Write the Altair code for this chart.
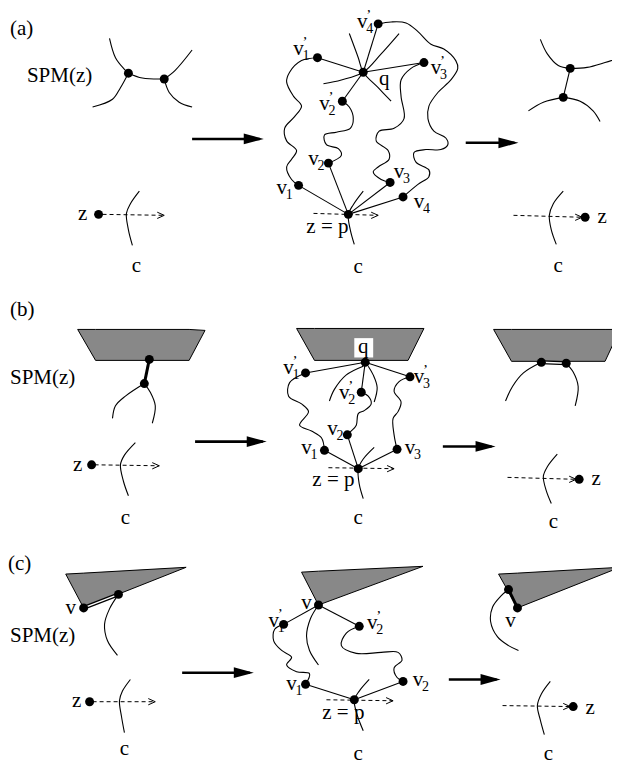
import altair as alt
import pandas as pd

# ---------------- geometry (picture coordinates) ----------------
# smooth curves (pass through listed points)
curves = {
    # panel (a)
    "a_spm_1": [(107, 27), (113, 47), (122, 59), (126, 63)],
    "a_spm_2": [(126, 63), (118, 78), (110, 90), (90, 98)],
    "a_spm_3": [(126, 63), (140, 68), (162, 69)],
    "a_spm_4": [(162, 69), (173, 60), (190, 39)],
    "a_spm_5": [(162, 69), (167, 83), (177, 93), (190, 98)],
    "a_c_l": [(137, 185), (128, 198), (124, 208), (126, 225), (130, 241)],
    "a_q_1": [(348, 22), (357, 47), (362, 62), (377, 78), (390, 92)],
    "a_q_2": [(322, 74), (340, 70), (362, 62), (380, 43), (398, 22)],
    "a_c_m": [(362, 185), (352, 199), (347, 209), (349, 225), (353, 240)],
    "a_w1": [(316, 47), (300, 50), (288, 62), (285, 72), (292, 87), (300, 97), (293, 108),
             (283, 120), (285, 133), (295, 143), (290, 152), (285, 160), (290, 173), (297, 179)],
    "a_w2": [(341, 92), (348, 98), (352, 110), (349, 120), (335, 124), (323, 127), (325, 137),
             (337, 141), (340, 148), (327, 156)],
    "a_w3": [(423, 52), (410, 58), (400, 70), (400, 87), (403, 110), (393, 120), (378, 123),
             (375, 133), (387, 143), (388, 152), (377, 160), (372, 165), (380, 173), (389, 176)],
    "a_w4": [(377, 12), (390, 10), (405, 11), (417, 20), (430, 33), (443, 38), (455, 50),
             (457, 58), (450, 70), (437, 83), (428, 97), (427, 110), (433, 123), (445, 130),
             (447, 137), (440, 142), (425, 142), (413, 145), (415, 155), (428, 163), (428, 170),
             (417, 178), (402, 191)],
    "a_r1": [(540, 28), (547, 43), (558, 55), (570, 58)],
    "a_r2": [(570, 58), (587, 57), (605, 52), (620, 47)],
    "a_r3": [(528, 102), (543, 93), (563, 88)],
    "a_r4": [(563, 88), (580, 92), (593, 102), (600, 113)],
    "a_c_r": [(563, 185), (553, 198), (549, 210), (551, 225), (556, 240)],
    # panel (b)
    "b_l1": [(142, 384), (123, 397), (113, 407), (110, 420)],
    "b_l2": [(142, 384), (148, 393), (153, 407), (150, 425)],
    "b_c_l": [(133, 445), (122, 458), (118, 468), (121, 485), (126, 500)],
    "b_m1": [(362, 366), (345, 375), (333, 390), (328, 402)],
    "b_m2": [(367, 366), (372, 375), (376, 388), (373, 403)],
    "b_c_m": [(373, 450), (362, 462), (357, 472), (358, 488), (362, 503)],
    "b_w1": [(304, 373), (288, 383), (287, 397), (300, 405), (307, 413), (298, 427),
             (310, 433), (320, 440), (323, 453)],
    "b_w2": [(360, 393), (367, 397), (370, 405), (363, 412), (357, 415), (355, 427),
             (350, 433), (346, 437)],
    "b_w3": [(409, 377), (398, 382), (393, 392), (400, 403), (397, 413), (392, 420),
             (393, 437), (396, 452)],
    "b_r1": [(541, 362), (523, 373), (512, 387), (505, 402)],
    "b_r2": [(566, 363), (573, 372), (578, 387), (575, 407)],
    "b_c_r": [(557, 457), (547, 470), (543, 480), (546, 495), (551, 508)],
    # panel (c)
    "c_l1": [(116, 602), (107, 617), (102, 633), (105, 650), (115, 665)],
    "c_c_l": [(128, 690), (120, 702), (117, 712), (119, 728), (122, 745)],
    "c_m1": [(317, 613), (309, 627), (305, 645), (308, 660), (317, 675)],
    "c_c_m": [(368, 690), (358, 702), (353, 711), (356, 727), (362, 743)],
    "c_w1": [(282, 633), (273, 638), (272, 650), (280, 660), (290, 667), (285, 675),
             (295, 682), (308, 684), (304, 695)],
    "c_w2": [(358, 635), (345, 642), (340, 655), (355, 663), (380, 662), (397, 662),
             (401, 670), (393, 678), (396, 688), (402, 692)],
    "c_r1": [(508, 597), (500, 604), (492, 615), (490, 630), (497, 646), (508, 655), (518, 660)],
    "c_c_r": [(550, 692), (541, 705), (537, 717), (540, 732), (544, 747)],
}

# straight thin edges
edges = {
    "a_pv1": [(347, 209), (297, 179)], "a_pv2": [(347, 209), (327, 156)],
    "a_pv3": [(347, 209), (389, 176)], "a_pv4": [(347, 209), (402, 191)],
    "a_qv1": [(362, 62), (316, 47)], "a_qv2": [(362, 62), (341, 92)],
    "a_qv3": [(362, 62), (423, 52)], "a_qv4": [(362, 62), (377, 12)],
    "a_rr": [(570, 58), (563, 88)],
    "b_qv1": [(364, 362), (304, 373)], "b_qv2": [(364, 362), (360, 393)],
    "b_qv3": [(364, 362), (409, 377)], "b_pv1": [(357, 472), (323, 453)],
    "b_pv2": [(357, 472), (346, 437)], "b_pv3": [(357, 472), (396, 452)],
    "c_vv1": [(317, 613), (282, 633)], "c_vv2": [(317, 613), (358, 635)],
    "c_pv1": [(353, 711), (304, 695)], "c_pv2": [(353, 711), (402, 692)],
}

thick_edges = {
    "b_l": [(147, 359), (142, 384)],
    "c_r": [(508, 597), (517, 616)],
}

double_edges = {
    "b_r": [(541, 362), (566, 363)],
    "c_l": [(81, 616), (116, 602)],
}

dashed_arrows = {
    "a_l": [(100, 209), (162, 210)], "a_m": [(312, 208), (377, 210)],
    "a_r": [(513, 210), (582, 212)],
    "b_l": [(92, 468), (157, 469)], "b_m": [(327, 471), (393, 472)],
    "b_r": [(507, 481), (576, 483)],
    "c_l": [(90, 713), (153, 713)], "c_m": [(325, 711), (392, 712)],
    "c_r": [(502, 717), (570, 718)],
}

big_arrows = {
    "a1": [(190, 131), (258, 131)], "a2": [(465, 135), (514, 135)],
    "b1": [(193, 444), (261, 444)], "b2": [(442, 449), (491, 449)],
    "c1": [(180, 683), (248, 683)], "c2": [(448, 690), (496, 690)],
}
big_heads_x = [262, 518, 265, 495, 252, 500]
big_heads_y = [131, 135, 444, 449, 683, 690]

dots_x = [126, 162, 96, 362, 377, 316, 423, 341, 327, 297, 389, 402, 347, 570, 563, 585,
          147, 142, 89, 364, 304, 409, 360, 346, 323, 396, 357, 541, 566, 579,
          81, 116, 87, 317, 282, 358, 304, 402, 353, 508, 517, 573]
dots_y = [63, 69, 209, 62, 12, 47, 52, 92, 156, 179, 176, 191, 209, 58, 88, 212,
          359, 384, 468, 362, 373, 377, 393, 437, 453, 452, 472, 362, 363, 483,
          616, 602, 713, 613, 633, 635, 695, 692, 711, 597, 616, 718]

# gray obstacles (vertical areas: x, top y, bottom y)
poly_id = ["bl"] * 4 + ["bm"] * 4 + ["br"] * 4 + ["cl"] * 3 + ["cm"] * 3 + ["cr"] * 3
poly_x = [75, 93, 187, 203, 295, 313, 407, 423, 493, 511, 605, 620,
          63, 81, 184, 300, 317, 422, 498, 517, 620]
poly_top = [328, 328, 328, 329, 327, 327, 327, 327, 328, 328, 328, 328,
            581, 580, 574, 579, 578, 573, 581, 580, 574]
poly_bot = [328, 360, 360, 329, 327, 360, 360, 327, 328, 361, 361, 328,
            581, 616, 574, 579, 613, 573, 581, 616, 574]

# labels
center_text = ["z", "c", "q", "z = p", "c", "z", "c",
               "z", "c", "q", "z = p", "c", "z", "c",
               "v", "z", "c", "v", "z = p", "c", "v", "z", "c"]
center_x = [80, 134, 383, 326, 357, 602, 558,
            75, 123, 362, 332, 357, 596, 553,
            68, 74, 122, 305, 342, 357, 510, 590, 548]
center_y = [209, 262, 69, 222, 263, 212, 262,
            468, 523, 346, 484, 523, 483, 527,
            616, 712, 762, 611, 725, 767, 630, 720, 767]

left_text = ["(a)", "SPM(z)", "(b)", "SPM(z)", "(c)", "SPM(z)"]
left_x = [7, 24, 7, 7, 5, 7]
left_y = [17, 66, 308, 378, 571, 645]

# v-labels: subscript digit and whether primed
v_sub = ["4", "1", "3", "2", "2", "1", "3", "4",
         "1", "2", "3", "2", "1", "3",
         "1", "2", "1", "2"]
v_prime = [1, 1, 1, 1, 0, 0, 0, 0,
           1, 1, 1, 0, 0, 0,
           1, 1, 0, 0]
v_x = [361, 297, 435, 323, 312, 280, 398, 418,
       287, 343, 418, 331, 305, 409,
       272, 371, 290, 417]
v_y = [10, 38, 58, 95, 152, 182, 165, 196,
       368, 394, 377, 431, 451, 451,
       630, 632, 695, 691]

q_box = {"x": [353], "x2": [372], "y": [337], "y2": [357]}

# ---------------- build chart ----------------
XS = alt.Scale(domain=[8, 612])
YS = alt.Scale(domain=[8, 765], reverse=True)
FONT = "Liberation Serif"


def lines_df(named):
    rows = []
    for name, pts in named.items():
        for i, (x, y) in enumerate(pts):
            rows.append({"id": name, "i": i, "x": x, "y": y})
    return pd.DataFrame(rows)


def enc_xy():
    return dict(x=alt.X("x:Q", scale=XS, axis=None), y=alt.Y("y:Q", scale=YS, axis=None))


def line_layer(named, color="black", **mk):
    return alt.Chart(lines_df(named)).mark_line(color=color, **mk).encode(
        **enc_xy(), detail="id:N", order="i:Q")


polys = alt.Chart(pd.DataFrame({"id": poly_id, "x": poly_x, "y": poly_top, "y2": poly_bot})).mark_area(
    fill="#888888", stroke="black", strokeWidth=1, opacity=1, clip=True
).encode(
    x=alt.X("x:Q", scale=XS, axis=None),
    y=alt.Y("y:Q", scale=YS, axis=None),
    y2="y2:Q",
    detail="id:N",
)

curve_layer = line_layer(curves, interpolate="catmull-rom", strokeWidth=1.1, clip=True)
edge_layer = line_layer(edges, strokeWidth=1.1)
thick_layer = line_layer(thick_edges, strokeWidth=3)
double_outer = line_layer(double_edges, strokeWidth=4)
double_inner = line_layer(double_edges, color="white", strokeWidth=1.4)
dashed_layer = line_layer(dashed_arrows, strokeWidth=1, strokeDash=[4, 3])

dash_tips = pd.DataFrame({"x": [p[1][0] for p in dashed_arrows.values()],
                          "y": [p[1][1] for p in dashed_arrows.values()]})
dash_heads = alt.Chart(dash_tips).mark_point(
    shape="M-1,-0.45L0,0L-1,0.45", size=196, filled=False, color="black", strokeWidth=1, opacity=1
).encode(**enc_xy())

big_layer = line_layer(big_arrows, strokeWidth=2.6)
big_heads = alt.Chart(pd.DataFrame({"x": big_heads_x, "y": big_heads_y})).mark_point(
    shape="M0,0L-1,-0.27L-1,0.27Z", size=1600, filled=True, color="black", opacity=1
).encode(**enc_xy())

qbox = alt.Chart(pd.DataFrame(q_box)).mark_rect(fill="white").encode(
    x=alt.X("x:Q", scale=XS, axis=None), x2="x2:Q",
    y=alt.Y("y:Q", scale=YS, axis=None), y2="y2:Q")

dots = alt.Chart(pd.DataFrame({"x": dots_x, "y": dots_y})).mark_circle(
    size=80, color="black", opacity=1).encode(**enc_xy())

ctext = alt.Chart(pd.DataFrame({"t": center_text, "x": center_x, "y": center_y})).mark_text(
    font=FONT, fontSize=21, align="center", baseline="middle", color="black"
).encode(**enc_xy(), text="t:N")

ltext = alt.Chart(pd.DataFrame({"t": left_text, "x": left_x, "y": left_y})).mark_text(
    font=FONT, fontSize=21, align="left", baseline="middle", color="black"
).encode(**enc_xy(), text="t:N")

vdf = pd.DataFrame({"x": v_x, "y": v_y, "s": v_sub, "p": v_prime})
vbase = alt.Chart(vdf).mark_text(
    font=FONT, fontSize=21, align="center", baseline="middle", color="black", text="v"
).encode(**enc_xy())
vsub = alt.Chart(vdf).mark_text(
    font=FONT, fontSize=14, align="left", baseline="middle", color="black", dx=4, dy=7
).encode(**enc_xy(), text="s:N")
vprime = alt.Chart(vdf).transform_filter("datum.p == 1").mark_text(
    font=FONT, fontSize=15, align="left", baseline="middle", color="black", dx=4, dy=-7, text="\u2019"
).encode(**enc_xy())

chart = alt.layer(
    polys, curve_layer, edge_layer, thick_layer, double_outer, double_inner,
    dashed_layer, dash_heads, big_layer, big_heads, qbox, dots,
    ctext, ltext, vbase, vsub, vprime
).properties(
    width=604, height=757, background="white", padding=0,
    autosize=alt.AutoSizeParams(type="fit", contains="padding"),
).configure_view(stroke=None)

chart.save("out.html", embed_options={"renderer": "svg", "actions": False})
